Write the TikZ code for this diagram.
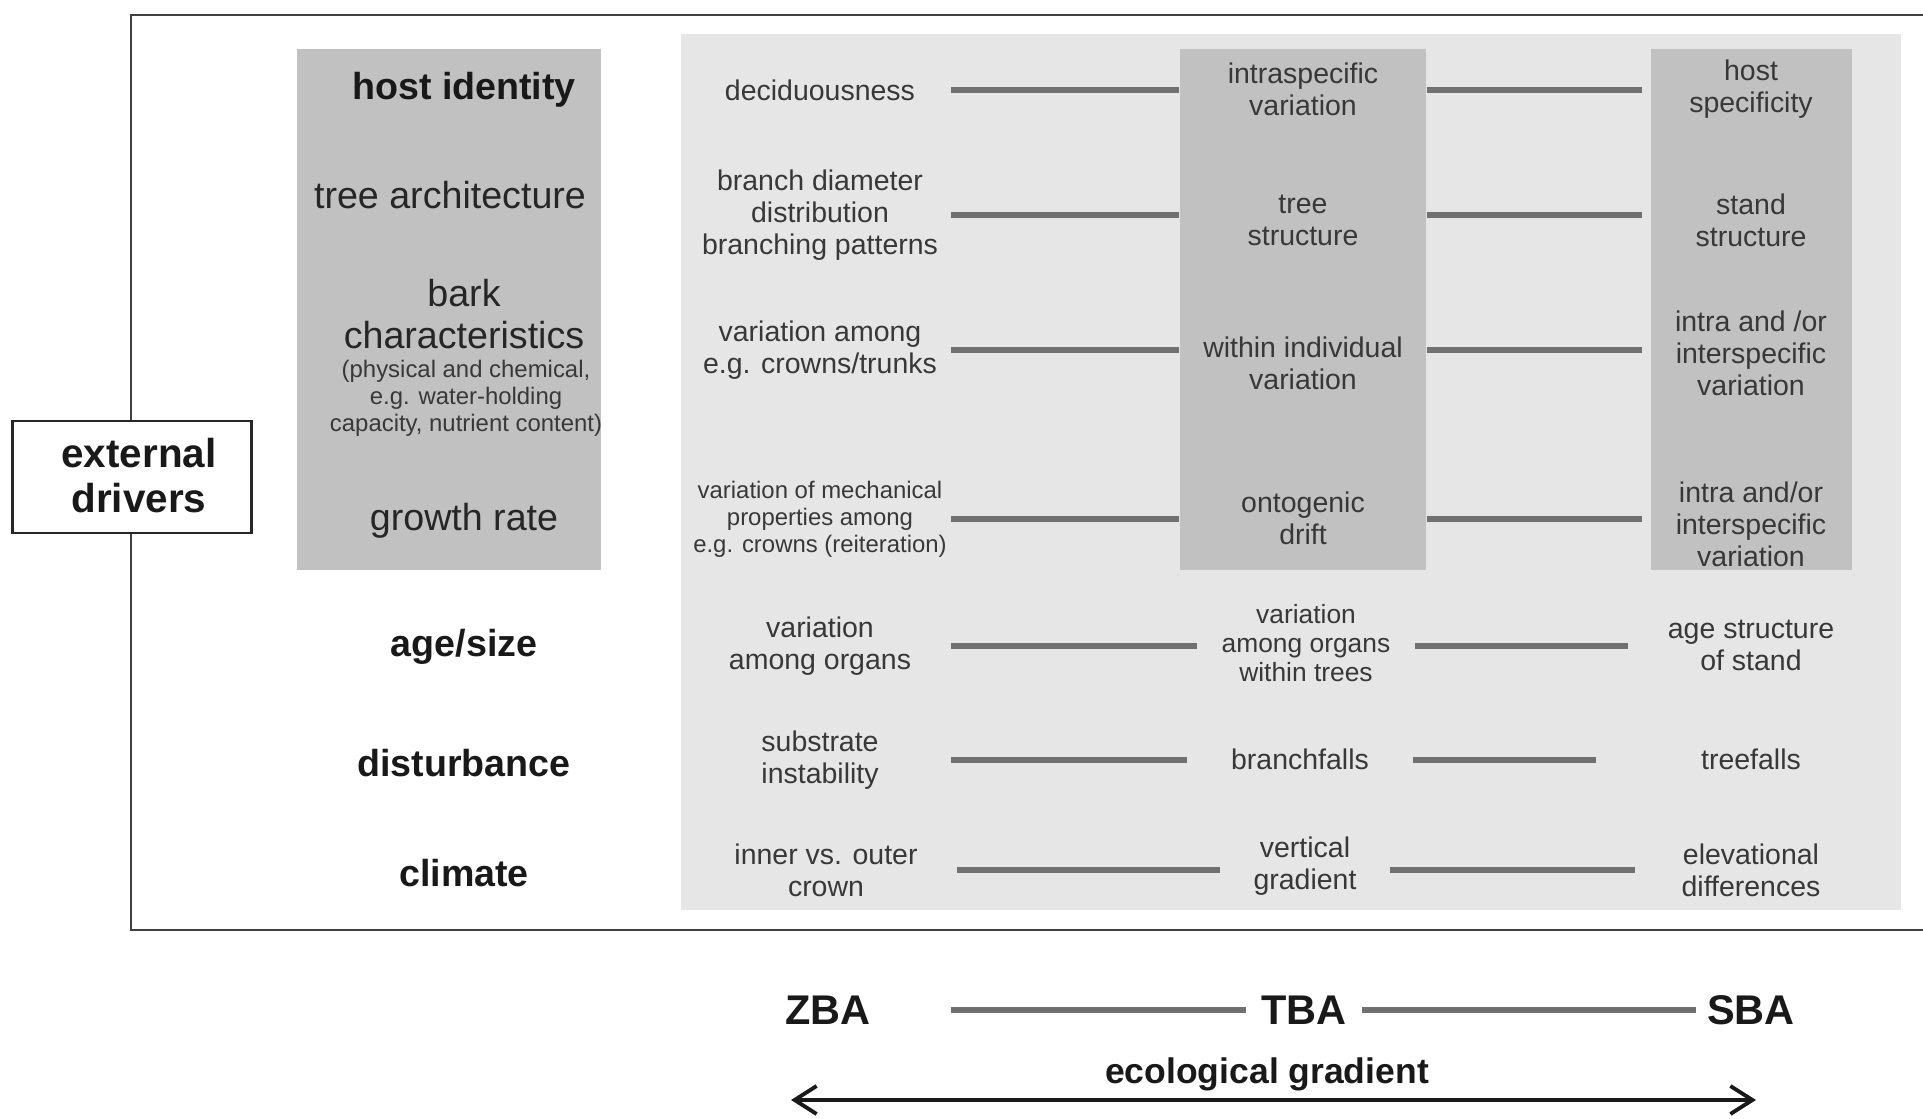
\documentclass[tikz,border=0pt]{standalone}
\usepackage{fontspec}
\setmainfont{Liberation Sans}
\usetikzlibrary{arrows.meta}

\definecolor{panelgray}{HTML}{E6E6E6}
\definecolor{boxgray}{HTML}{C1C1C1}
\definecolor{linkgray}{HTML}{707070}

\tikzset{
  every node/.style={inner sep=0pt, align=center},
  drvtext/.style={font=\fontsize{10.7}{11.9}\selectfont, text=black!85},
  drvbold/.style={font=\bfseries\fontsize{10.7}{11.9}\selectfont, text=black!90},
  celltext/.style={font=\fontsize{8.1}{9.1}\selectfont, text=black!78},
  smalltext/.style={font=\fontsize{6.8}{7.7}\selectfont, text=black!78},
  leftcell/.style={celltext, minimum width=2.6cm},
  midcell/.style={celltext, minimum width=2.46cm},
  rightcell/.style={celltext, minimum width=2.16cm},
  site/.style={font=\bfseries\fontsize{11.8}{13}\selectfont, text=black!90},
  link/.style={line width=1.7pt, draw=linkgray},
}

\begin{document}
\begin{tikzpicture}[x=0.01cm, y=-0.01cm]
    \useasboundingbox (0,0) rectangle (1923,1119);

    % frame and backgrounds
    \draw[line width=0.8pt, black!75] (1923,15) -- (131,15) -- (131,930) -- (1923,930);
    \fill[panelgray] (681,34) rectangle (1901,910);
    \fill[boxgray] (297,49) rectangle (601,570);
    \fill[boxgray] (1180,49) rectangle (1426,570);
    \fill[boxgray] (1651,49) rectangle (1852,570);

    \node[draw=black!85, line width=0.8pt, fill=white, minimum width=2.39cm, minimum height=1.12cm] (ext) at (132,477) {};
    \node[font=\bfseries\fontsize{11.5}{12.8}\selectfont, text=black!90] (extlabel) at (139,476) {external\\drivers};

    % drivers
    \node[drvbold] (d1) at (464,90) {host identity};
    \node[drvtext] (d2) at (450,195) {tree architecture};
    \node[drvtext] (d3) at (464,314) {bark\\characteristics};
    \node[smalltext] (d3n) at (466,398) {(physical and chemical,\\e.g. water-holding\\capacity, nutrient content)};
    \node[drvtext] (d4) at (464,521) {growth rate};
    \node[drvbold] (d5) at (464,647) {age/size};
    \node[drvbold] (d6) at (464,763) {disturbance};
    \node[drvbold] (d7) at (464,873) {climate};

    % ZBA / TBA / SBA rows
    \node[leftcell] (l1) at (820,90) {deciduousness};
    \node[midcell] (m1) at (1303,89) {intraspecific\\variation};
    \node[rightcell] (r1) at (1751,89) {host\\specificity};

    \node[leftcell] (l2) at (820,215) {branch diameter\\distribution\\branching patterns};
    \node[midcell] (m2) at (1303,220) {tree\\structure};
    \node[rightcell] (r2) at (1751,220) {stand\\structure};

    \node[leftcell] (l3) at (820,350) {variation among\\e.g. crowns/trunks};
    \node[midcell] (m3) at (1303,363) {within individual\\variation};
    \node[rightcell] (r3) at (1751,353) {intra and /or\\interspecific\\variation};

    \node[leftcell, smalltext] (l4) at (820,519) {variation of mechanical\\properties among\\e.g. crowns (reiteration)};
    \node[midcell] (m4) at (1303,518) {ontogenic\\drift};
    \node[rightcell] (r4) at (1751,524) {intra and/or\\interspecific\\variation};

    \node[leftcell] (l5) at (820,646) {variation\\among organs};
    \node[celltext, font=\fontsize{7.5}{8.3}\selectfont, minimum width=2.16cm] (m5) at (1306,643) {variation\\among organs\\within trees};
    \node[celltext, minimum width=2.44cm] (r5) at (1751,645) {age structure\\of stand};

    \node[leftcell] (l6) at (820,760) {substrate\\instability};
    \node[celltext, minimum width=2.24cm] (m6) at (1300,759) {branchfalls};
    \node[celltext, minimum width=3.08cm] (r6) at (1751,759) {treefalls};

    \node[leftcell] (l7) at (826,870) {inner vs. outer\\crown};
    \node[celltext, minimum width=1.68cm] (m7) at (1305,866) {vertical\\gradient};
    \node[celltext, minimum width=2.3cm] (r7) at (1751,870) {elevational\\differences};

    \foreach \i in {1,...,7}
        \draw[link] (l\i.east) -- (l\i.east -| m\i.west)
                    (l\i.east -| m\i.east) -- (l\i.east -| r\i.west);

    % gradient
    \node[site, minimum width=2.44cm] (zba) at (828,1010) {ZBA};
    \node[site, minimum width=1.14cm] (tba) at (1304,1010) {TBA};
    \node[site, minimum width=1.08cm] (sba) at (1751,1010) {SBA};
    \draw[link] (zba.east) -- (tba.west);
    \draw[link] (tba.east) -- (sba.west);

    \node[font=\bfseries\fontsize{10.1}{12}\selectfont, text=black!90] (eco) at (1267,1074) {ecological gradient};
    \coordinate (gl) at (791,1100);
    \coordinate (gr) at (1756,1100);
    \draw[{Straight Barb[length=2.2mm, width=2.8mm]}-{Straight Barb[length=2.2mm, width=2.8mm]}, line width=1.1pt, black!90] (gl) -- (gr);
\end{tikzpicture}
\end{document}
